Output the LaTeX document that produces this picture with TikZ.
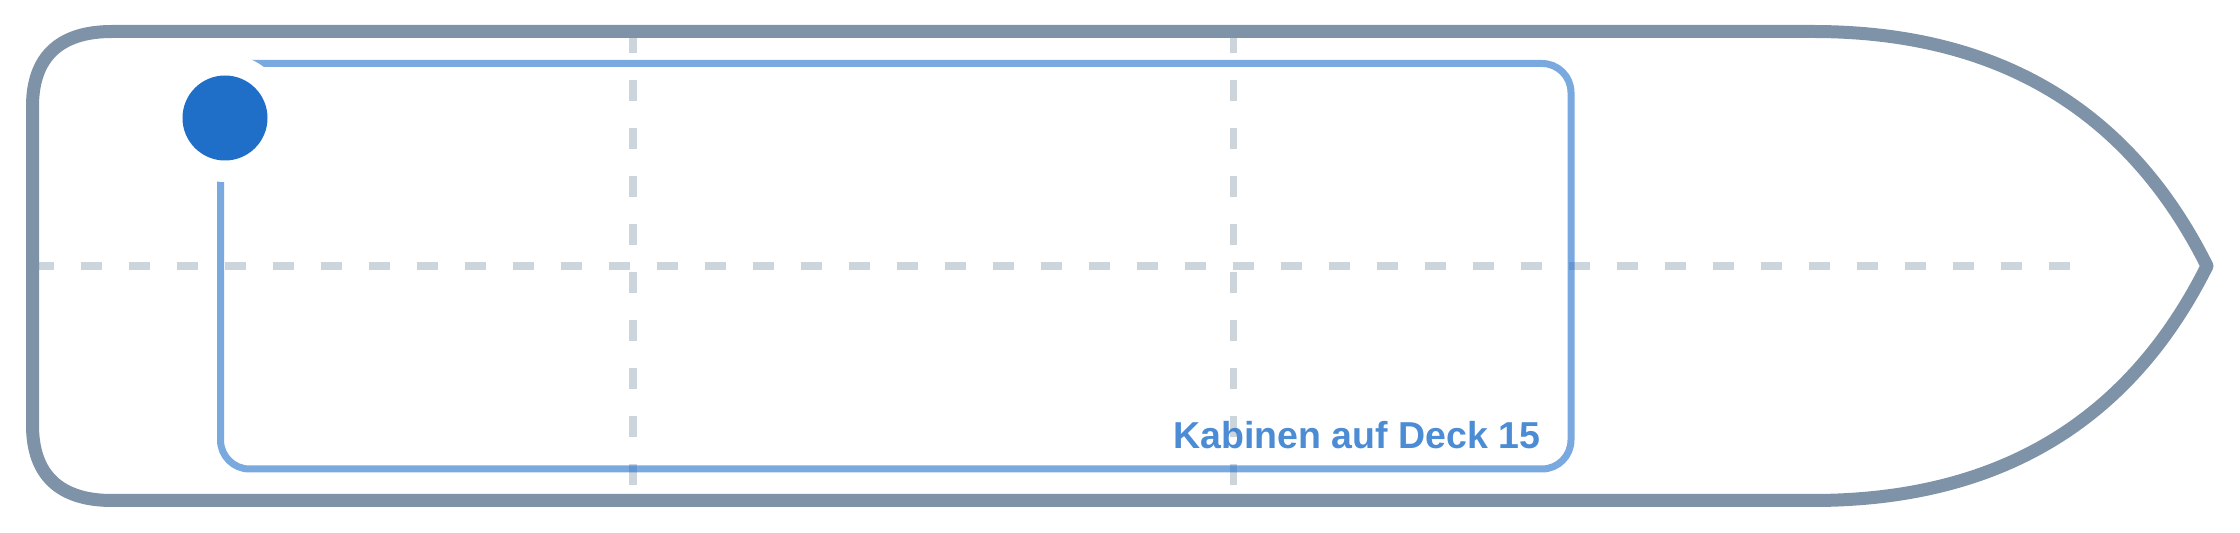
\documentclass[tikz,border=0pt]{standalone}
\usepackage{fontspec}
\setmainfont{Liberation Sans}
\definecolor{hull}{HTML}{7F93A8}
\definecolor{accent}{HTML}{1F6FC9}
\tikzset{
  hullline/.style={draw=hull, line width=3.25pt, line join=round},
  guide/.style={draw=hull, draw opacity=0.4, line width=1.875pt, dash pattern=on 5.375pt off 6.625pt},
  zone/.style={draw=accent, draw opacity=0.6, line width=1.75pt, rounded corners=7.25pt},
  halo/.style={fill=white},
  dot/.style={fill=accent},
  caption/.style={text=accent, text opacity=0.8, font=\bfseries\fontsize{9.375}{11}\selectfont, inner sep=0pt, anchor=base east},
}
\begin{document}
\begin{tikzpicture}[x=0.25pt,y=-0.25pt]
\useasboundingbox (0,0) rectangle (2240,533);
% guides
\draw[guide] (32.5,266) -- (2070,266);
\draw[guide] (633,32) -- (633,500.5);
\draw[guide] (1233.5,32) -- (1233.5,500.5);
% zone
\draw[zone] (220.5,63.5) rectangle (1571,469);
% hull
\draw[hullline] (112,31.5) -- (1813,31.5)
  .. controls (1997.7,31.5) and (2129,109.7) .. (2207,266)
  .. controls (2129,422.3) and (1997.7,500.5) .. (1813,500.5)
  -- (112,500.5)
  .. controls (59.7,500.5) and (32.5,475.2) .. (32.5,425)
  -- (32.5,106.5)
  .. controls (32.5,56.7) and (59.7,31.5) .. (112,31.5) -- cycle;
% marker
\coordinate (pin) at (225,118);
\path[halo] (pin) circle[radius=64];
\path[dot] (pin) circle[radius=42.5];
% caption
\node[caption] (cap) at (1541,448.3) {Kabinen auf Deck 15};
\end{tikzpicture}
\end{document}
